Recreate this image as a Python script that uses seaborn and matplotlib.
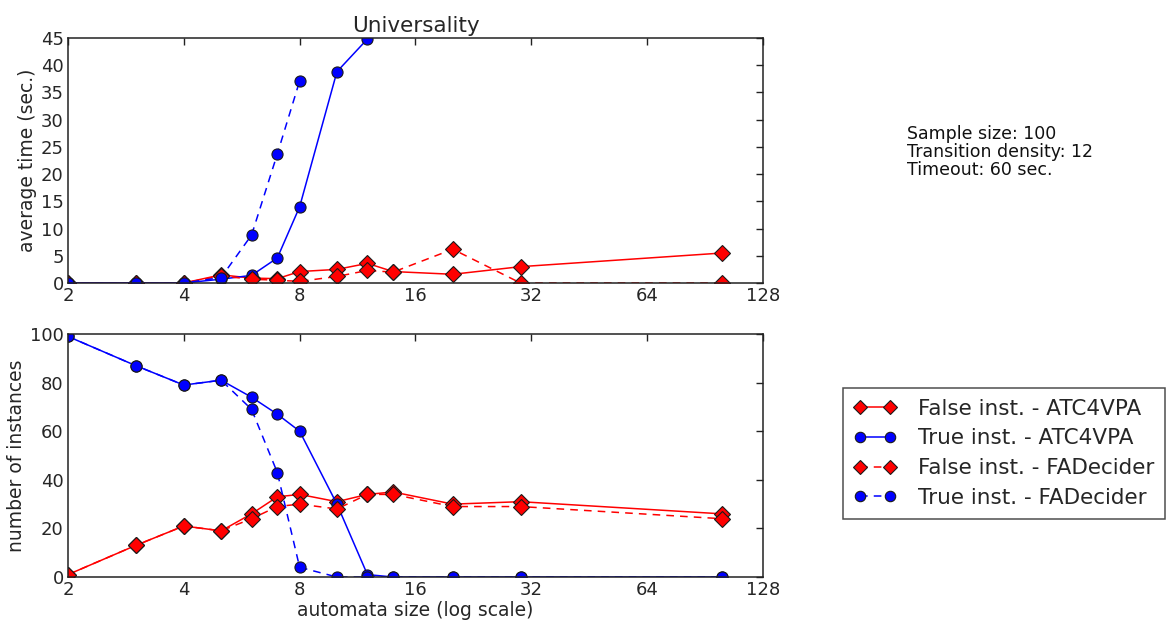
import numpy as np
import pandas as pd
import seaborn as sns
import matplotlib
matplotlib.use("Agg")
import matplotlib.pyplot as plt

# automata sizes (x axis, log2 scale)
sizes = [2, 3, 4, 5, 6, 7, 8, 10, 12, 14, 20, 30, 100]

series_names = ["False inst. - ATC4VPA", "True inst. - ATC4VPA",
                "False inst. - FADecider", "True inst. - FADecider"]

# average time (sec.) -- nan where no value was plotted
time_false_atc = [0, 0, 0, 1.5, 0.9, 0.8, 2.1, 2.5, 3.6, 2.1, 1.6, 3.0, 5.5]
time_true_atc = [0, 0, 0, 0.7, 1.4, 4.6, 14.0, 38.8, 44.8, np.nan, np.nan, np.nan, np.nan]
time_false_fad = [0, 0, 0, 1.3, 0.7, 0.5, 0.3, 1.2, 2.3, 2.0, 6.2, 0, 0]
time_true_fad = [0, 0, 0, 1.0, 8.8, 23.7, 37.1, np.nan, np.nan, np.nan, np.nan, np.nan, np.nan]

# number of instances
cnt_false_atc = [1, 13, 21, 19, 26, 33, 34, 31, 34, 35, 30, 31, 26]
cnt_true_atc = [99, 87, 79, 81, 74, 67, 60, 30, 1, 0, 0, 0, 0]
cnt_false_fad = [1, 13, 21, 19, 24, 29, 30, 28, 34, 34, 29, 29, 24]
cnt_true_fad = [99, 87, 79, 81, 69, 43, 4, 0, 0, 0, 0, 0, 0]

x_ticks = [2, 4, 8, 16, 32, 64, 128]
info_text = "Sample size: 100\nTransition density: 12\nTimeout: 60 sec."


def long_table(vals):
    rows = []
    for name, v in zip(series_names, vals):
        for s, y in zip(sizes, v):
            rows.append({"size": s, "value": y, "series": name})
    return pd.DataFrame(rows).dropna()


times = long_table([time_false_atc, time_true_atc, time_false_fad, time_true_fad])
counts = long_table([cnt_false_atc, cnt_true_atc, cnt_false_fad, cnt_true_fad])

palette = {series_names[0]: "#ff0000", series_names[1]: "#0000ff",
           series_names[2]: "#ff0000", series_names[3]: "#0000ff"}
markers = {series_names[0]: "D", series_names[1]: "o",
           series_names[2]: "D", series_names[3]: "o"}
dashes = {series_names[0]: "", series_names[1]: "",
          series_names[2]: (5, 4), series_names[3]: (5, 4)}

sns.set_theme(style="white")
plt.rcParams["font.family"] = ["DejaVu Sans"]
plt.rcParams["xtick.direction"] = "in"
plt.rcParams["ytick.direction"] = "in"

fig = plt.figure(figsize=(11.74, 6.3), dpi=100)
ax1 = fig.add_axes([0.0579, 0.5508, 0.592, 0.389])
ax2 = fig.add_axes([0.0579, 0.0841, 0.592, 0.3857])

common = dict(x="size", y="value", hue="series", style="series",
              hue_order=series_names, style_order=series_names,
              palette=palette, markers=markers, dashes=dashes,
              markersize=8, markeredgecolor="k", markeredgewidth=0.8,
              linewidth=1.1)

sns.lineplot(data=times, ax=ax1, legend=False, **common)
sns.lineplot(data=counts, ax=ax2, **common)

for ax in (ax1, ax2):
    ax.set_xscale("log", base=2)
    ax.set_xlim(2, 128)
    ax.set_xticks(x_ticks)
    ax.set_xticklabels([str(t) for t in x_ticks])
    ax.minorticks_off()
    ax.tick_params(axis="both", which="both", top=True, right=True,
                   length=5, width=1, labelsize=13, color="#222222", pad=3)
    for sp in ax.spines.values():
        sp.set_color("#222222")
        sp.set_linewidth(1.1)

ax1.set_ylim(0, 45)
ax1.set_yticks(range(0, 46, 5))
ax1.set_xlabel("")
ax1.set_ylabel("average time (sec.)", fontsize=13.5, labelpad=3)
ax1.set_title("Universality", fontsize=15.5, pad=4)

ax2.set_ylim(0, 100)
ax2.set_yticks(range(0, 101, 20))
ax2.set_xlabel("automata size (log scale)", fontsize=13.5, labelpad=1)
ax2.set_ylabel("number of instances", fontsize=13.5, labelpad=3)

handles, labels = ax2.get_legend_handles_labels()
for h in handles:
    h.set_markeredgecolor("k")
    h.set_markeredgewidth(0.8)
    h.set_markersize(7.5)
    h.set_linewidth(1.1)
ax2.legend(handles, labels, loc="upper left", bbox_to_anchor=(1.115, 0.778),
           borderaxespad=0, numpoints=2, fontsize=15.5, frameon=True,
           fancybox=False, edgecolor="#222222", handlelength=2.0,
           handletextpad=1.0, labelspacing=0.45, borderpad=0.5)
ax2.get_legend().get_frame().set_linewidth(1.1)

fig.text(0.7726, 0.801, info_text, fontsize=12.5, va="top", ha="left",
         linespacing=1.0, color="#111111")

fig.savefig("out.png", dpi=100)
